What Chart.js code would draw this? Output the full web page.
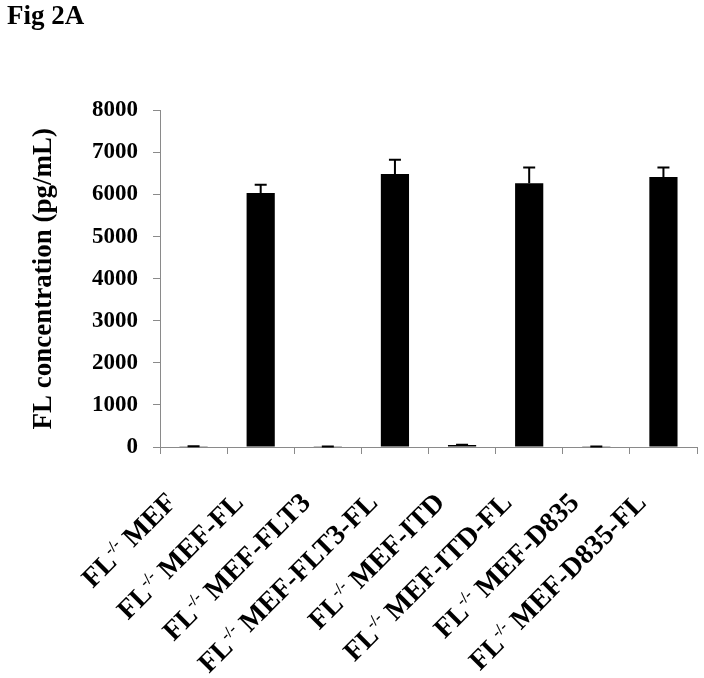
<!DOCTYPE html>
<html>
<head>
<meta charset="utf-8">
<script src="https://cdn.jsdelivr.net/npm/chart.js@4"></script>
<style>
  body { margin: 0; background: #fff; }
  #wrap { width: 704px; height: 678px; }
</style>
</head>
<body>
<div id="wrap"><canvas id="fig2a" width="704" height="678"></canvas></div>
<script>
// Cell lines (all on FL-/- MEF background)
const cellLines = ['MEF', 'MEF-FL', 'MEF-FLT3', 'MEF-FLT3-FL', 'MEF-ITD', 'MEF-ITD-FL', 'MEF-D835', 'MEF-D835-FL'];
// FL concentration (pg/mL), mean and upper error
const flConc = [5, 6035, 3, 6490, 45, 6270, 3, 6415];
const flErr = [10, 200, 10, 340, 10, 370, 10, 225];
const yTicks = [0, 1000, 2000, 3000, 4000, 5000, 6000, 7000, 8000];

const SERIF = '"Liberation Serif", "Times New Roman", serif';
const AXIS_GRAY = '#8a8a8a';

// Upper-only error bars with caps
const errorBars = {
  id: 'errorBars',
  afterDatasetsDraw(chart) {
    const ctx = chart.ctx;
    const y = chart.scales.y;
    const meta = chart.getDatasetMeta(0);
    ctx.save();
    ctx.strokeStyle = '#000';
    ctx.lineWidth = 2;
    meta.data.forEach((bar, i) => {
      const top = y.getPixelForValue(flConc[i] + flErr[i]);
      ctx.beginPath();
      ctx.moveTo(bar.x, bar.y);
      ctx.lineTo(bar.x, top);
      ctx.moveTo(bar.x - 6, top);
      ctx.lineTo(bar.x + 6, top);
      ctx.stroke();
    });
    ctx.restore();
  }
};

// Rotated category labels with superscript "-/-"
const rotatedLabels = {
  id: 'rotatedLabels',
  afterDraw(chart) {
    const ctx = chart.ctx;
    const x = chart.scales.x;
    const big = 'bold 28px ' + SERIF;
    const small = 'bold 16px ' + SERIF;
    ctx.save();
    ctx.fillStyle = '#000';
    ctx.textBaseline = 'alphabetic';
    ctx.textAlign = 'left';
    cellLines.forEach((name, i) => {
      const px = x.getPixelForValue(i) - 16;
      const py = x.top + 57;
      ctx.font = big;
      const w1 = ctx.measureText('FL').width;
      const w3 = ctx.measureText(' ' + name).width;
      ctx.font = small;
      const w2 = ctx.measureText('-/-').width;
      const total = w1 + w2 + w3;
      ctx.save();
      ctx.translate(px, py);
      ctx.rotate(-Math.PI / 4);
      ctx.font = big;
      ctx.fillText('FL', -total, 0);
      ctx.font = small;
      ctx.fillText('-/-', -total + w1, -11);
      ctx.font = big;
      ctx.fillText(' ' + name, -total + w1 + w2, 0);
      ctx.restore();
    });
    ctx.restore();
  }
};

new Chart(document.getElementById('fig2a'), {
  type: 'bar',
  data: {
    labels: cellLines,
    datasets: [{
      data: flConc,
      backgroundColor: '#000',
      borderWidth: 0,
      barPercentage: 0.42,
      categoryPercentage: 1
    }]
  },
  options: {
    responsive: false,
    animation: false,
    devicePixelRatio: 1,
    layout: { padding: { left: 7, right: 7, top: 0, bottom: 0 } },
    plugins: {
      legend: { display: false },
      tooltip: { enabled: false },
      title: {
        display: true,
        text: 'Fig 2A',
        align: 'start',
        color: '#000',
        font: { family: SERIF, size: 27, weight: 'bold' },
        padding: { top: 1, bottom: 77 }
      }
    },
    scales: {
      x: {
        grid: { display: true, offset: true, drawOnChartArea: false, drawTicks: true, tickLength: 7, color: AXIS_GRAY },
        border: { display: true, color: AXIS_GRAY, width: 1 },
        ticks: { display: false },
        afterFit(scale) { scale.height = 231; }
      },
      y: {
        min: 0,
        max: 8000,
        afterBuildTicks(scale) { scale.ticks = yTicks.map(v => ({ value: v })); },
        grid: { drawOnChartArea: false, drawTicks: true, tickLength: 7, color: AXIS_GRAY },
        border: { display: true, color: AXIS_GRAY, width: 1 },
        ticks: {
          color: '#000',
          padding: 15,
          font: { family: SERIF, size: 23, weight: 'bold' },
          callback: v => String(v)
        },
        title: {
          display: true,
          text: 'FL concentration (pg/mL)',
          color: '#000',
          font: { family: SERIF, size: 27, weight: 'bold' },
          padding: { top: 21, bottom: 0 }
        },
        afterFit(scale) { scale.width = 153; }
      }
    }
  },
  plugins: [errorBars, rotatedLabels]
});
</script>
</body>
</html>
